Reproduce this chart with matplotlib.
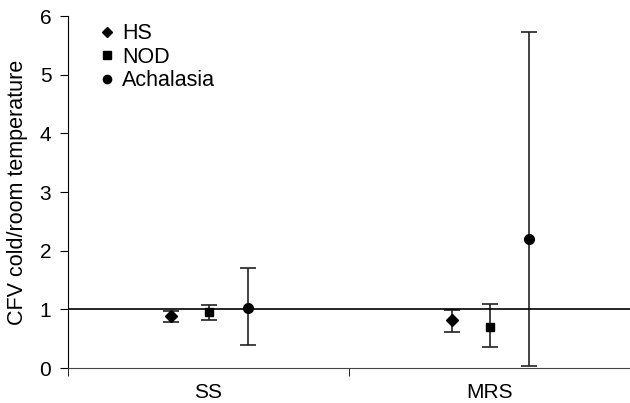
import matplotlib.pyplot as plt
from matplotlib.lines import Line2D

plt.rcParams['font.family'] = ['Liberation Sans', 'DejaVu Sans']

categories = ['SS', 'MRS']
groups = ['HS', 'NOD', 'Achalasia']
markers = ['D', 's', 'o']
marker_sizes = [6, 6, 7]

# mean, lower, upper for each group at SS and MRS
means = {'HS': [0.88, 0.81], 'NOD': [0.95, 0.70], 'Achalasia': [1.02, 2.20]}
lows = {'HS': [0.78, 0.61], 'NOD': [0.82, 0.36], 'Achalasia': [0.40, 0.03]}
highs = {'HS': [0.98, 0.99], 'NOD': [1.08, 1.09], 'Achalasia': [1.70, 5.72]}

fig = plt.figure(figsize=(6.3, 4.03), dpi=100)
ax = fig.add_axes([68 / 630, 35 / 403, 562 / 630, 352 / 403])

offsets = [-0.135, 0.0, 0.14]
for g, m, ms, off in zip(groups, markers, marker_sizes, offsets):
    xs = [i + off for i in range(len(categories))]
    y = means[g]
    err = [[a - b for a, b in zip(y, lows[g])], [b - a for a, b in zip(y, highs[g])]]
    ax.errorbar(xs, y, yerr=err, fmt=m, color='black', ms=ms, capsize=6,
                elinewidth=1.2, capthick=1.2, ecolor='#222222')

ax.axhline(1, color='black', lw=1.2)
ax.set_xlim(-0.5, 1.5)
ax.set_ylim(0, 6)
ax.set_yticks(range(7))
ax.set_xticks([0, 1])
ax.set_xticklabels(categories, fontsize=15)
ax.set_xticks([-0.5, 0.5, 1.5], minor=True)
ax.tick_params(axis='x', which='major', length=0, pad=11)
ax.tick_params(axis='x', which='minor', length=6, direction='out')
ax.tick_params(axis='y', labelsize=15, length=6, direction='out', pad=6)
ax.spines['top'].set_visible(False)
ax.spines['right'].set_visible(False)
ax.spines['bottom'].set_color('#444444')
ax.set_ylabel('CFV cold/room temperature', fontsize=15.5, labelpad=8)

handles = [Line2D([], [], ls='none', marker=m, color='black', ms=ms * 0.85)
           for m, ms in zip(markers, marker_sizes)]
ax.legend(handles, groups, loc='upper left', frameon=False, fontsize=15.5,
          handletextpad=0.1, labelspacing=0.12, handlelength=1.2,
          bbox_to_anchor=(0.012, 1.035))

fig.savefig('out.png', dpi=100)
